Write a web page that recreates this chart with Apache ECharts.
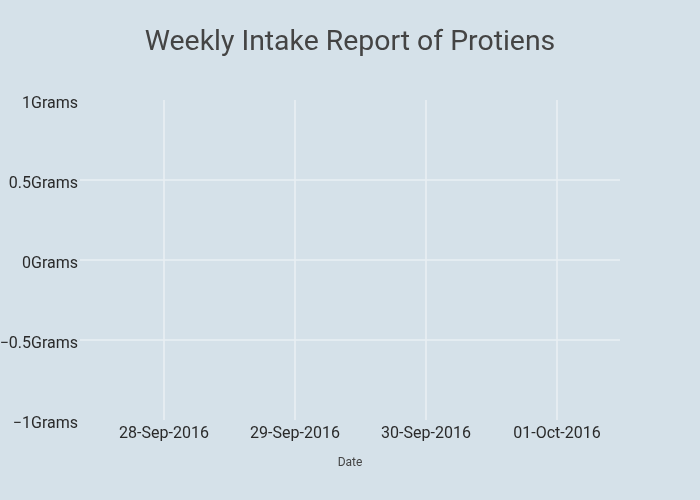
<!DOCTYPE html>
<html>
<head>
<meta charset="utf-8">
<script src="https://cdn.jsdelivr.net/npm/echarts@6/dist/echarts.min.js"></script>
<style>html,body{margin:0;padding:0;background:#d5e1e9;}#c{width:700px;height:500px;}</style>
</head>
<body>
<div id="c"></div>
<script>
const titleText = 'Weekly Intake Report of Protiens';
const dates = ['28-Sep-2016', '29-Sep-2016', '30-Sep-2016', '01-Oct-2016'];
const proteinGrams = [null, null, null, null];
const yMin = -1, yMax = 1, yStep = 0.5;
const yUnit = 'Grams';
const xName = 'Date';

const chart = echarts.init(document.getElementById('c'), null, {renderer: 'canvas'});
const fontFamily = 'Roboto, "Open Sans", sans-serif';
const gridColor = '#e9eff3';
chart.setOption({
  backgroundColor: '#d5e1e9',
  animation: false,
  textStyle: {fontFamily: fontFamily},
  title: {
    text: titleText, left: 'center', top: 24,
    textStyle: {fontFamily: fontFamily, fontSize: 28.4, fontWeight: 'normal', color: '#444'}
  },
  grid: [
    {left: 80, right: 80, top: 100, bottom: 80, containLabel: false, outerBoundsMode: 'none'},
    {left: 164, right: 143, top: 100, bottom: 80, containLabel: false, outerBoundsMode: 'none'}
  ],
  xAxis: [
    {
      gridIndex: 0, type: 'value', min: 0, max: 1,
      name: xName, nameLocation: 'middle', nameGap: 37,
      nameTextStyle: {fontFamily: fontFamily, fontSize: 12, color: '#444'},
      axisLine: {show: false}, axisTick: {show: false},
      axisLabel: {show: false}, splitLine: {show: false}
    },
    {
      gridIndex: 1, type: 'category', data: dates, boundaryGap: false,
      axisLine: {show: false}, axisTick: {show: false},
      axisLabel: {fontFamily: fontFamily, fontSize: 16, color: '#2a2a2a', margin: 6},
      splitLine: {show: true, lineStyle: {color: gridColor, width: 1.6}}
    }
  ],
  yAxis: [
    {
      gridIndex: 0, type: 'value', min: yMin, max: yMax, interval: yStep,
      axisLine: {show: false}, axisTick: {show: false},
      axisLabel: {
        fontFamily: fontFamily, fontSize: 16, color: '#2a2a2a', margin: 2,
        formatter: v => '{a|' + (v < 0 ? '\u2212' + Math.abs(v) : String(v)) + yUnit + '}',
        rich: {a: {fontFamily: fontFamily, fontSize: 16, color: '#2a2a2a', padding: [7, 0, 0, 0]}}
      },
      splitLine: {
        show: true, showMinLine: false, showMaxLine: false,
        lineStyle: {color: gridColor, width: 1.6}
      }
    },
    {gridIndex: 1, type: 'value', min: yMin, max: yMax, show: false}
  ],
  series: [{
    type: 'line', xAxisIndex: 1, yAxisIndex: 1,
    data: proteinGrams, showSymbol: false
  }]
});
</script>
</body>
</html>
